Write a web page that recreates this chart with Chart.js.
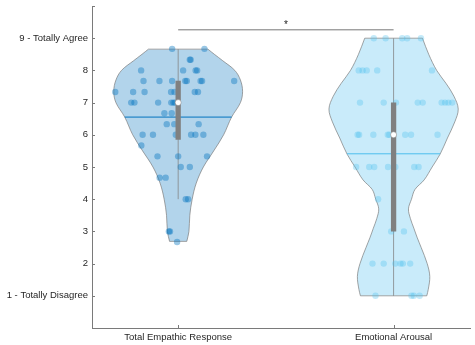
<!DOCTYPE html>
<html>
<head>
<meta charset="utf-8">
<script src="https://cdn.jsdelivr.net/npm/chart.js@4"></script>
<style>
  html, body { margin: 0; padding: 0; background: #fff; }
  #chart { display: block; }
</style>
</head>
<body>
<canvas id="chart" width="475" height="345"></canvas>
<script>
const categories = ['Total Empathic Response', 'Emotional Arousal'];
const yTickLabels = { 1: '1 - Totally Disagree', 9: '9 - Totally Agree' };

// violin outline: score level and half-width (category units)
const empLevels = [2.69, 3.0, 3.5, 4.0, 4.5, 5.0, 5.5, 6.0, 6.55, 7.0, 7.35, 7.7, 8.0, 8.3, 8.5, 8.66];
const empHalf = [0.040, 0.050, 0.054, 0.065, 0.084, 0.117, 0.165, 0.211, 0.248, 0.289, 0.299, 0.289, 0.263, 0.207, 0.168, 0.138];
const aroLevels = [1.0, 1.2, 1.6, 2.0, 2.5, 2.8, 3.1, 3.4, 3.7, 4.0, 4.3, 4.6, 5.0, 5.4, 5.9, 6.4, 6.8, 7.2, 7.6, 8.0, 8.5, 9.0];
const aroHalf = [0.154, 0.161, 0.168, 0.156, 0.128, 0.110, 0.094, 0.078, 0.069, 0.083, 0.099, 0.142, 0.179, 0.216, 0.250, 0.284, 0.300, 0.280, 0.243, 0.200, 0.163, 0.134];

// individual scores (x = jittered position)
const empX = [0.972, 1.122,
  1.054, 1.058,
  0.828, 1.023, 1.081, 1.088,
  0.839, 0.913, 0.972, 1.033, 1.040, 1.104, 1.111, 1.260,
  0.708, 0.791, 0.844, 0.967, 0.983, 1.077, 1.092,
  0.782, 0.797, 0.907, 0.968, 0.978, 0.985,
  0.936, 0.970,
  0.947, 0.982, 1.095,
  0.835, 0.883, 0.989, 1.060, 1.080, 1.117,
  0.829,
  0.904, 1.000, 1.134,
  1.012, 1.054,
  0.914, 0.942,
  1.035, 1.046,
  0.957, 0.962,
  0.995];
const empY = [8.67, 8.67,
  8.33, 8.33,
  8, 8, 8, 8,
  7.67, 7.67, 7.67, 7.67, 7.67, 7.67, 7.67, 7.67,
  7.33, 7.33, 7.33, 7.33, 7.33, 7.33, 7.33,
  7, 7, 7, 7, 7, 7,
  6.67, 6.67,
  6.33, 6.33, 6.33,
  6, 6, 6, 6, 6, 6,
  5.67,
  5.33, 5.33, 5.33,
  5, 5,
  4.67, 4.67,
  4, 4,
  3, 3,
  2.67];
const aroX = [1.908, 1.963, 2.040, 2.063, 2.127,
  1.838, 1.856, 1.875, 1.924, 2.178,
  1.844, 1.954, 2.011, 2.112, 2.135, 2.223, 2.239, 2.254, 2.272,
  1.833, 1.840, 1.906, 1.973, 1.980, 2.054, 2.081, 2.204,
  1.826, 1.887, 1.910, 1.974, 2.008, 2.096, 2.116,
  1.928,
  1.989, 2.048,
  1.902, 1.954, 2.008, 2.032, 2.043, 2.077,
  1.916, 2.083, 2.094, 2.121];
const aroY = [9, 9, 9, 9, 9,
  8, 8, 8, 8, 8,
  7, 7, 7, 7, 7, 7, 7, 7, 7,
  6, 6, 6, 6, 6, 6, 6, 6,
  5, 5, 5, 5, 5, 5, 5,
  4,
  3, 3,
  2, 2, 2, 2, 2, 2,
  1, 1, 1, 1];

// summary stats per category
const q1 = [5.85, 3.0];
const q3 = [7.68, 7.0];
const medians = [7.0, 6.0];
const whiskLo = [4.0, 1.0];
const whiskHi = [8.66, 9.0];
const means = [6.55, 5.41];
const meanHalf = [0.248, 0.216];
const sigLevel = 9.26;
const sigText = '*';

const baseColors = ['0,114,189', '77,190,238'];
const pointAlpha = [0.4, 0.33];
const edgeColor = 'rgba(120,120,120,0.85)';
const axisColor = '#7a7a7a';
const font = { family: '"Liberation Sans", Arial, Helvetica, sans-serif', size: 9.5 };

function line(data, color, width, order, extra) {
  return Object.assign({
    data, showLine: true, borderColor: color, borderWidth: width,
    pointRadius: 0, pointHoverRadius: 0, fill: false, tension: 0, order
  }, extra || {});
}

const datasets = [];
const violins = [[empLevels, empHalf, empX, empY], [aroLevels, aroHalf, aroX, aroY]];

violins.forEach(([levels, half, px, py], k) => {
  const c = k + 1;
  const col = baseColors[k];
  const last = levels.length - 1;
  // edges, filled between them
  datasets.push(line(levels.map((y, i) => ({ x: c - half[i], y })), edgeColor, 0.8, 20, { tension: 0.35 }));
  datasets.push(line(levels.map((y, i) => ({ x: c + half[i], y })), edgeColor, 0.8, 20,
    { tension: 0.35, fill: '-1', backgroundColor: `rgba(${col},0.3)` }));
  // flat caps
  datasets.push(line([{ x: c - half[last], y: levels[last] }, { x: c + half[last], y: levels[last] }], edgeColor, 0.8, 19));
  datasets.push(line([{ x: c - half[0], y: levels[0] }, { x: c + half[0], y: levels[0] }], edgeColor, 0.8, 19));
  // whisker
  datasets.push(line([{ x: c, y: whiskLo[k] }, { x: c, y: whiskHi[k] }], 'rgba(128,128,128,0.75)', 1, 18));
  // mean
  datasets.push(line([{ x: c - meanHalf[k], y: means[k] }, { x: c + meanHalf[k], y: means[k] }], `rgb(${col})`, 1, 17));
  // scatter of individual scores
  datasets.push({
    data: px.map((x, i) => ({ x, y: py[i] })),
    showLine: false, pointRadius: 3.2, pointBorderWidth: 0,
    backgroundColor: `rgba(${col},${pointAlpha[k]})`, borderColor: 'transparent', order: 16
  });
  // interquartile bar
  datasets.push(line([{ x: c, y: q1[k] }, { x: c, y: q3[k] }], '#808080', 5.3, 15, { borderCapStyle: 'butt' }));
  // median
  datasets.push({
    data: [{ x: c, y: medians[k] }], showLine: false, pointRadius: 3,
    backgroundColor: '#ffffff', borderColor: '#808080', pointBorderWidth: 0.5, order: 14
  });
});

// significance bar
datasets.push(line([{ x: 1, y: sigLevel }, { x: 2, y: sigLevel }], '#777777', 1, 13));

const extras = {
  id: 'extras',
  afterDraw(chart) {
    const { ctx, chartArea, scales: { x, y } } = chart;
    ctx.save();
    // inward tick marks
    ctx.strokeStyle = axisColor;
    ctx.lineWidth = 1;
    ctx.beginPath();
    for (let v = 1; v <= 10; v++) {
      const py = Math.round(y.getPixelForValue(v)) + 0.5;
      ctx.moveTo(chartArea.left, py);
      ctx.lineTo(chartArea.left + 3, py);
    }
    [1, 2].forEach(v => {
      const px = Math.round(x.getPixelForValue(v)) + 0.5;
      ctx.moveTo(px, chartArea.bottom);
      ctx.lineTo(px, chartArea.bottom - 3);
    });
    ctx.stroke();
    // significance star
    ctx.fillStyle = '#222';
    ctx.font = '10px "Liberation Sans", Arial, sans-serif';
    ctx.textAlign = 'center';
    ctx.textBaseline = 'alphabetic';
    ctx.fillText(sigText, x.getPixelForValue(1.5), y.getPixelForValue(sigLevel) - 1.5);
    ctx.restore();
  }
};

const noGrid = { display: false, drawTicks: false, tickLength: 0 };

new Chart(document.getElementById('chart'), {
  type: 'scatter',
  data: { datasets },
  plugins: [extras],
  options: {
    responsive: false,
    animation: false,
    indexAxis: 'y',
    layout: { padding: { top: 6, left: 0, right: 0, bottom: 0 } },
    plugins: { legend: { display: false }, tooltip: { enabled: false } },
    scales: {
      x: {
        type: 'linear', min: 0.6, max: 2.357,
        afterBuildTicks: s => { s.ticks = [{ value: 1 }, { value: 2 }]; },
        afterFit: s => { s.height = 17; s.paddingLeft = 0; s.paddingRight = 0; },
        grid: noGrid,
        border: { display: true, color: axisColor, width: 1 },
        ticks: {
          callback: v => categories[v - 1] ?? null,
          color: '#262626', font, padding: 4, autoSkip: false, maxRotation: 0
        }
      },
      y: {
        type: 'linear', min: 0, max: 10,
        afterFit: s => { s.width = 92; s.paddingTop = 0; s.paddingBottom = 0; },
        grid: noGrid,
        border: { display: true, color: axisColor, width: 1 },
        ticks: {
          stepSize: 1,
          callback: v => yTickLabels[v] ?? (v >= 2 && v <= 8 ? String(v) : null),
          color: '#262626', font, padding: 4
        }
      }
    }
  }
});
</script>
</body>
</html>
